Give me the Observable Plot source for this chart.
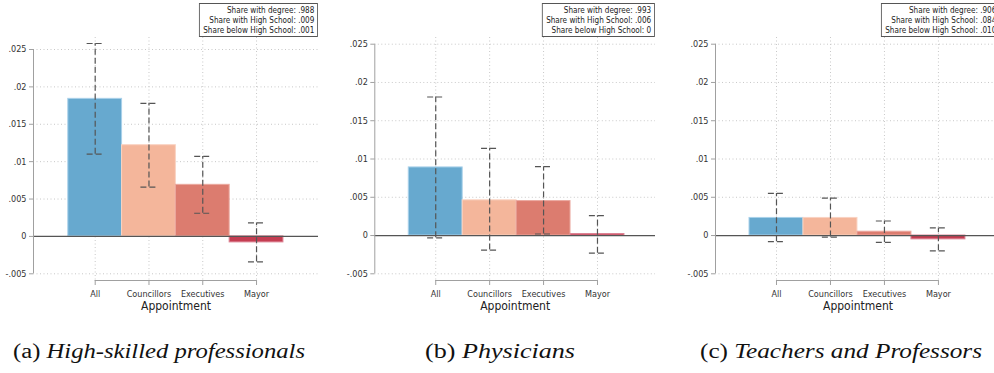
<!DOCTYPE html>
<html><head><meta charset="utf-8">
<script src="https://cdn.jsdelivr.net/npm/d3@7"></script>
<script src="https://cdn.jsdelivr.net/npm/@observablehq/plot@0.6"></script>
<style>
html,body{margin:0;padding:0;background:#fff;}
#root{position:relative;width:994px;height:373px;overflow:hidden;background:#fff;}
.panel{position:absolute;top:0;}
.legend{position:absolute;top:3px;border:1px solid #555;font-family:"Liberation Sans Narrow","DejaVu Sans Condensed","Roboto Condensed",Roboto,sans-serif;font-stretch:condensed;font-size:9.5px;line-height:10px;text-align:right;padding:1px 3px 1px 4px;color:#222;background:#fff;white-space:nowrap;transform-origin:100% 0;}
.caption{position:absolute;top:340px;font-family:"Liberation Serif","Times New Roman",serif;font-size:20px;white-space:nowrap;color:#111;transform-origin:0 0;}
.caption i{font-style:italic;}
</style></head><body><div id="root"></div>
<script>
// ---- data ----
const categories = ["All", "Councillors", "Executives", "Mayor"];
const colors = ["#67a9cf", "#f4b69b", "#dc7c6f", "#c43d51"];
const edgeColors = ["#a9d1ea", "#f9d3c2", "#eba89f", "#dc8393"];

const yTicks = [-0.005, 0, 0.005, 0.01, 0.015, 0.02, 0.025];
const yTickLabels = ["-.005", "0", ".005", ".01", ".015", ".02", ".025"];

const coefA = [0.0184, 0.0122, 0.0069, -0.0008];
const loA   = [0.0110, 0.0066, 0.0031, -0.0034];
const hiA   = [0.0258, 0.0178, 0.0107, 0.0018];

const coefB = [0.0089, 0.0046, 0.0045, 0.0002];
const loB   = [-0.0003, -0.0019, 0.0002, -0.0023];
const hiB   = [0.0181, 0.0114, 0.0090, 0.0026];

const coefC = [0.0023, 0.0023, 0.0005, -0.0005];
const loC   = [-0.0008, -0.0002, -0.0009, -0.0020];
const hiC   = [0.0055, 0.0049, 0.0019, 0.0010];

const legendA = ["Share with degree: .988", "Share with High School: .009", "Share below High School: .001"];
const legendB = ["Share with degree: .993", "Share with High School: .006", "Share below High School: 0"];
const legendC = ["Share with degree: .906", "Share with High School: .084", "Share below High School: .010"];

const captionLabels = ["(a)", "(b)", "(c)"];
const captionTitles = ["High-skilled professionals", "Physicians", "Teachers and Professors"];

// ---- layout ----
const narrowFont = '"Liberation Sans Narrow","DejaVu Sans Condensed","Roboto Condensed",Roboto,sans-serif';
const root = document.getElementById("root");

function panel(p) {
  const {coef, lo, hi, legend, left, width, marginLeft, frameRight, topTick, bottomTick, xLeft, xRight} = p;
  const H = 322, regionTop = 37, regionBottom = 280;
  const t0 = yTicks[0], t1 = yTicks[yTicks.length - 1];
  const unit = (bottomTick - topTick) / (t1 - t0);
  const yHi = t1 + (topTick - regionTop) / unit;
  const yLo = t0 - (regionBottom - bottomTick) / unit;
  const data = categories.map((c, i) => ({i, cat: c, coef: coef[i], lo: lo[i], hi: hi[i]}));
  const gridStyle = {stroke: "#c8c8c8", strokeDasharray: "1,2.5", strokeWidth: 1};
  const errStyle = {stroke: "#555", strokeDasharray: "6,3", strokeWidth: 1.2};
  const svg = Plot.plot({
    width, height: H,
    marginLeft, marginRight: width - frameRight, marginTop: regionTop, marginBottom: H - regionBottom,
    x: {type: "linear", domain: [xLeft, xRight]},
    y: {domain: [yLo, yHi]},
    color: {type: "identity"},
    style: {fontFamily: narrowFont, fontSize: "9px", color: "#333", background: "transparent", fontStretch: "condensed"},
    marks: [
      Plot.ruleY(yTicks.filter(t => t !== 0), gridStyle),
      Plot.ruleX(data, {x: "i", ...gridStyle}),
      Plot.rectY(data, {x1: d => d.i - 0.5, x2: d => d.i + 0.5, y1: 0, y2: "coef",
        fill: d => colors[d.i], stroke: d => edgeColors[d.i], strokeWidth: 1}),
      Plot.ruleY([0], {stroke: "#555", strokeWidth: 1.2}),
      Plot.ruleX(data, {x: "i", y1: "lo", y2: "hi", ...errStyle}),
      Plot.ruleY(data, {y: "lo", x1: d => d.i - 0.15, x2: d => d.i + 0.15, ...errStyle}),
      Plot.ruleY(data, {y: "hi", x1: d => d.i - 0.15, x2: d => d.i + 0.15, ...errStyle}),
      Plot.ruleX([xLeft], {y1: t0, y2: t1, stroke: "#a0a0a0", strokeWidth: 1}),
      Plot.axisY({ticks: yTicks, tickFormat: d => yTickLabels[yTicks.indexOf(d)], tickSize: 4, tickPadding: 3,
        stroke: "#a0a0a0", fill: "#333", label: null}),
      Plot.ruleY([yLo], {x1: 0, x2: categories.length - 1, stroke: "#a0a0a0", strokeWidth: 1}),
      Plot.axisX({ticks: d3.range(categories.length), tickFormat: d => categories[d], tickSize: 5, tickPadding: 5,
        stroke: "#a0a0a0", fill: "#333", label: null}),
      Plot.text(["Appointment"], {text: d => d, frameAnchor: "bottom", dy: 29, fontSize: 12, fill: "#222"})
    ]
  });
  svg.classList.add("panel");
  svg.style.left = left + "px";
  svg.style.overflow = "visible";
  root.appendChild(svg);

  const box = document.createElement("div");
  box.className = "legend";
  box.innerHTML = legend.map(s => `<div>${s}</div>`).join("");
  box.style.right = (994 - (left + frameRight)) + "px";
  box.style.transform = "scaleX(0.85)";
  root.appendChild(box);
}

panel({coef: coefA, lo: loA, hi: hiA, legend: legendA, left: 0, width: 330, marginLeft: 33, frameRight: 318,
  topTick: 49, bottomTick: 273.3, xLeft: -1.147, xRight: 4.152});
panel({coef: coefB, lo: loB, hi: hiB, legend: legendB, left: 330, width: 330, marginLeft: 44.3, frameRight: 325,
  topTick: 43.7, bottomTick: 273.3, xLeft: -1.13, xRight: 4.076});
panel({coef: coefC, lo: loC, hi: hiC, legend: legendC, left: 660, width: 344, marginLeft: 55, frameRight: 340,
  topTick: 43.7, bottomTick: 273.3, xLeft: -1.13, xRight: 4.15});

// captions
const capPos = [[13, 305], [425, 575], [700, 982]];
captionLabels.forEach((lab, k) => {
  const el = document.createElement("div");
  el.className = "caption";
  el.innerHTML = `${lab} <i>${captionTitles[k]}</i>`;
  el.style.left = capPos[k][0] + "px";
  root.appendChild(el);
  const w = el.getBoundingClientRect().width;
  el.style.transform = `scaleX(${(capPos[k][1] - capPos[k][0]) / w})`;
});
</script></body></html>
